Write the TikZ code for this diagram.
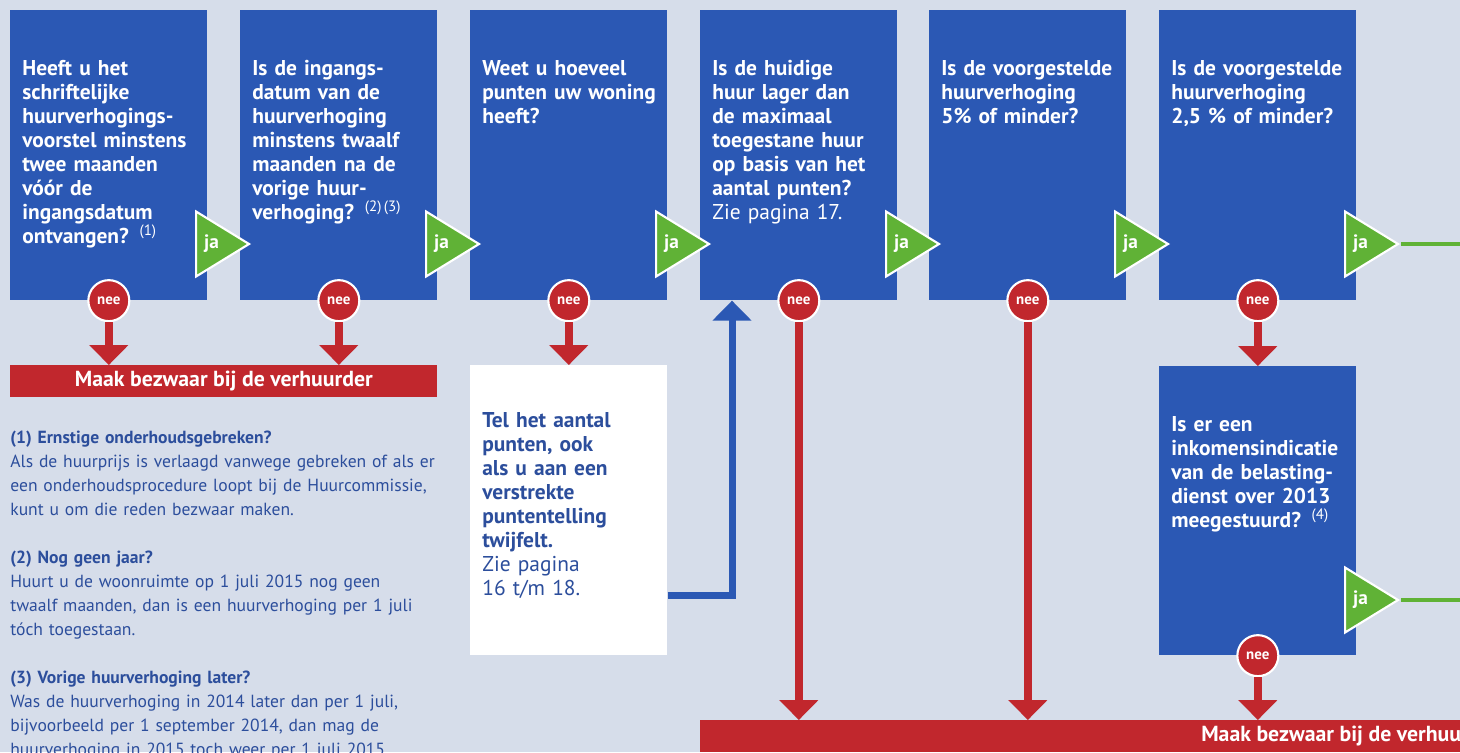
\documentclass[tikz,border=0pt]{standalone}
\usepackage{fontspec}
\setmainfont{PT Sans}
\usetikzlibrary{arrows.meta, positioning, shapes.geometric}
\definecolor{paper}{RGB}{214,221,234}
\definecolor{boxblue}{RGB}{43,88,180}
\definecolor{nered}{RGB}{193,39,45}
\definecolor{jagreen}{RGB}{96,178,54}
\definecolor{noteblue}{RGB}{44,78,156}

\begin{document}
\begin{tikzpicture}[
    x=0.02cm, y=-0.02cm,
    question/.style={fill=boxblue, minimum width=3.94cm, minimum height=5.8cm, anchor=north west, inner sep=0pt},
    qtext/.style={anchor=base west, text width=3.9cm, align=left, inner sep=0pt, text=white, font=\fontsize{12.2}{13.66}\selectfont\bfseries},
    yesmark/.style={isosceles triangle, isosceles triangle stretches, minimum width=1.3cm, minimum height=1.06cm, inner sep=0pt, fill=jagreen, draw=white, line width=1.2pt, text=white, font=\fontsize{11}{11}\selectfont\bfseries, anchor=west},
    noball/.style={circle, fill=nered, draw=white, line width=1.2pt, minimum size=0.82cm, inner sep=0pt, text=white, font=\fontsize{8.5}{8.5}\selectfont\bfseries},
    noline/.style={draw=nered, line width=0.16cm, -{Triangle[width=0.76cm, length=0.4cm]}},
    backline/.style={draw=boxblue, line width=0.14cm, -{Triangle[width=0.76cm, length=0.4cm]}},
    yesline/.style={draw=jagreen, line width=0.09cm},
    objection/.style={fill=nered, minimum height=0.64cm, anchor=north west, inner sep=0pt, text=white, font=\fontsize{12.4}{12.4}\selectfont\bfseries},
    ]

\clip (0,0) rectangle (1460,752);
\fill[paper] (0,0) rectangle (1460,752);

\node[question] at (10,10) (q1) {};
\node[question] at (240,10) (q2) {};
\node[question] at (470,10) (q3) {};
\node[question] at (700,10) (q4) {};
\node[question] at (929,10) (q5) {};
\node[question] at (1159,10) (q6) {};
\node[question, minimum height=5.78cm] at (1159,366) (q7) {};
\node[question, fill=white] at (470,365) (tel) {};

\node[qtext] at (22,75) (q1t) {Heeft u het\\ schriftelijke\\ huurverhogings-\\ voorstel minstens\\ twee maanden\\ vóór de\\ ingangsdatum\\ ontvangen? {\mdseries\textsuperscript{(1)}}};
\node[qtext] at (252,75) (q2t) {Is de ingangs-\\ datum van de\\ huurverhoging\\ minstens twaalf\\ maanden na de\\ vorige huur-\\ verhoging? {\mdseries\textsuperscript{(2)\,(3)}}};
\node[qtext] at (482,75) (q3t) {Weet u hoeveel\\ punten uw woning\\ heeft?};
\node[qtext] at (712,75) (q4t) {Is de huidige\\ huur lager dan\\ de maximaal\\ toegestane huur\\ op basis van het\\ aantal punten?\\ {\mdseries Zie pagina 17.}};
\node[qtext] at (941,75) (q5t) {Is de voorgestelde\\ huurverhoging\\ 5\% of minder?};
\node[qtext] at (1171,75) (q6t) {Is de voorgestelde\\ huurverhoging\\ 2,5 \% of minder?};
\node[qtext] at (1171,431) (q7t) {Is er een\\ inkomensindicatie\\ van de belasting-\\ dienst over 2013\\ meegestuurd? {\mdseries\textsuperscript{(4)}}};
\node[qtext, text=noteblue] at (482,427) (telt) {Tel het aantal\\ punten, ook\\ als u aan een\\ verstrekte\\ puntentelling\\ twijfelt.\\ {\mdseries Zie pagina\\ 16 t/m 18.}};

\node[yesmark] at (195,244) (ja1) {ja};
\node[yesmark] at (425,244) (ja2) {ja};
\node[yesmark] at (655,244) (ja3) {ja};
\node[yesmark] at (885,244) (ja4) {ja};
\node[yesmark] at (1114,244) (ja5) {ja};
\node[yesmark] at (1344,244) (ja6) {ja};
\node[yesmark] at (1344,600) (ja7) {ja};

\draw[yesline] (ja6.apex) -- ++(80,0);
\draw[yesline] (ja7.apex) -- ++(80,0);

\node[objection, minimum width=8.54cm] at (10,365) (bar1) {Maak bezwaar bij de verhuurder};
\node[objection, minimum width=26cm] at (700,720) (bar2) {Maak bezwaar bij de verhuurder};

\node[noball] at (q1.south) (n1) {nee};
\node[noball] at (q2.south) (n2) {nee};
\node[noball] at (q3.south) (n3) {nee};
\node[noball] at (q4.south) (n4) {nee};
\node[noball] at (q5.south) (n5) {nee};
\node[noball] at (q6.south) (n6) {nee};
\node[noball] at (q7.south) (n7) {nee};

\draw[noline] (n1.south) -- (n1 |- bar1.north);
\draw[noline] (n2.south) -- (n2 |- bar1.north);
\draw[noline] (n3.south) -- (tel.north);
\draw[noline] (n4.south) -- (n4 |- bar2.north);
\draw[noline] (n5.south) -- (n5 |- bar2.north);
\draw[noline] (n6.south) -- (q7.north);
\draw[noline] (n7.south) -- (n7 |- bar2.north);

\coordinate (turn) at (732,595);
\draw[backline] (tel.east |- turn) -- (turn) -- (turn |- q4.south);

\node[anchor=base west, text width=9.8cm, align=left, inner sep=0pt, text=noteblue, font=\fontsize{10}{13.66}\selectfont] at (10,443) (notes)
    {\textbf{(1) Ernstige onderhoudsgebreken?}\\ Als de huurprijs is verlaagd vanwege gebreken of als er\\ een onderhoudsprocedure loopt bij de Huurcommissie,\\ kunt u om die reden bezwaar maken.\\[13.66pt]
    \textbf{(2) Nog geen jaar?}\\ Huurt u de woonruimte op 1 juli 2015 nog geen\\ twaalf maanden, dan is een huurverhoging per 1 juli\\ tóch toegestaan.\\[13.66pt]
    \textbf{(3) Vorige huurverhoging later?}\\ Was de huurverhoging in 2014 later dan per 1 juli,\\ bijvoorbeeld per 1 september 2014, dan mag de\\ huurverhoging in 2015 toch weer per 1 juli 2015.};

\end{tikzpicture}
\end{document}
